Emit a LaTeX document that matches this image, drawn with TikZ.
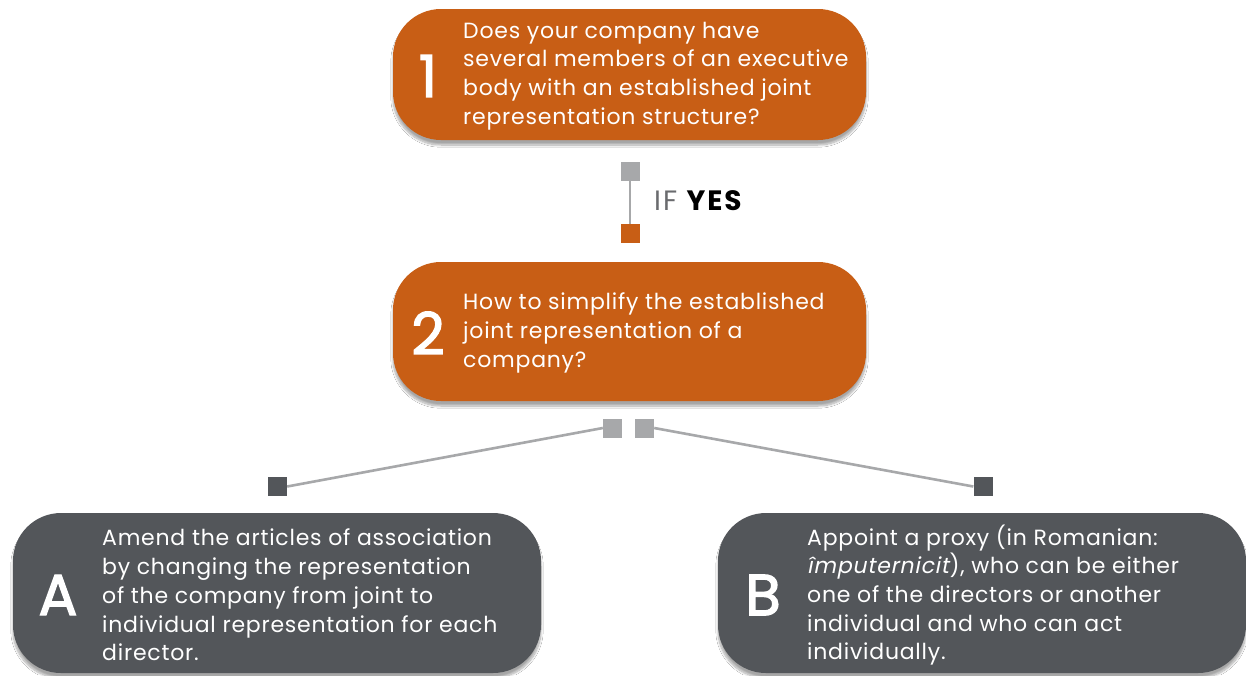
\documentclass[tikz,border=0pt]{standalone}
\usepackage{fontspec}
\setmainfont{Poppins}[AutoFakeSlant=0.2, LetterSpace=3.5]
\newfontfamily\numfont{Poppins}[FakeBold=2.2]
\usetikzlibrary{shadows.blur}
\definecolor{orangec}{HTML}{C85E15}
\definecolor{darkc}{HTML}{53565A}
\definecolor{lgray}{HTML}{A7A8AA}
\definecolor{ifgray}{HTML}{6A6B6E}
\begin{document}
\begin{tikzpicture}[x=1pt,y=-1pt,
  card/.style={rectangle, rounded corners=48pt, inner sep=0pt,
    blur shadow={shadow xshift=0pt, shadow yshift=-5pt, shadow blur steps=10, shadow opacity=35}},
  orangecard/.style={card, fill=orangec},
  darkcard/.style={card, fill=darkc},
  bignum/.style={text=white, font=\numfont\fontsize{58}{58}\selectfont, inner sep=0pt},
  bodytext/.style={text=white, align=left, anchor=west, inner sep=0pt, font=\fontsize{22}{28.7}\selectfont},
  sq/.style={rectangle, minimum size=19pt, inner sep=0pt},
  link/.style={draw=lgray, line width=2.6pt}
]
\useasboundingbox[fill=white] (0,0) rectangle (1246,675);

% box 1
\node[orangecard, minimum width=473pt, minimum height=131pt] (b1) at (629.5,74.5) {};
\node[bignum] (n1) at (428,76) {1};
\node[bodytext] (t1) at (463,76) {Does your company have\\several members of an executive\\body with an established joint\\representation structure?};

% box 2
\node[orangecard, minimum width=473pt, minimum height=139pt] (b2) at (629.5,331.5) {};
\node[bignum] (n2) at (428,333) {2};
\node[bodytext] (t2) at (463,333) {How to simplify the established\\joint representation of a\\company?};

% box A
\node[darkcard, minimum width=528pt, minimum height=160pt] (bA) at (277,593) {};
\node[bignum] (nA) at (58,595) {A};
\node[bodytext] (tA) at (102,595) {Amend the articles of association\\by changing the representation\\of the company from joint to\\individual representation for each\\director.};

% box B
\node[darkcard, minimum width=528pt, minimum height=160pt] (bB) at (982,593) {};
\node[bignum] (nB) at (763,595) {B};
\node[bodytext] (tB) at (807,595) {Appoint a proxy (in Romanian:\\\textit{împuternicit}), who can be either\\one of the directors or another\\individual and who can act\\individually.};

% connector 1 -> 2
\node[sq, fill=lgray] (s1) at (630,171.5) {};
\node[sq, fill=orangec] (s2) at (630,233.5) {};
\draw[link] (s1) -- (s2);
\node[anchor=west, inner sep=0pt, font=\fontsize{28}{28}\selectfont\addfontfeature{LetterSpace=7}] (ify) at (654,201)
  {\textcolor{ifgray}{IF} \textbf{YES}};

% connector 2 -> A, B
\node[sq, fill=lgray] (s3) at (612.5,428) {};
\node[sq, fill=lgray] (s4) at (644.5,428) {};
\node[sq, fill=darkc] (s5) at (277.5,486.5) {};
\node[sq, fill=darkc] (s6) at (983,486.5) {};
\draw[link] (s3.west) -- (s5.east);
\draw[link] (s4.east) -- (s6.west);
\end{tikzpicture}
\end{document}
